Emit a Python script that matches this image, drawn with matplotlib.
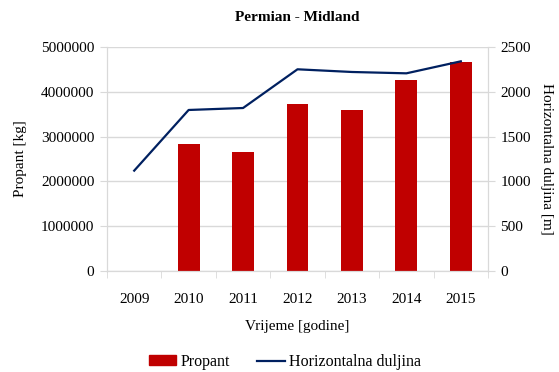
import numpy as np
import matplotlib.pyplot as plt
from matplotlib.lines import Line2D
from matplotlib.patches import Patch

plt.rcParams['font.family'] = 'Liberation Serif'

years = ['2009', '2010', '2011', '2012', '2013', '2014', '2015']
propant = [0, 2830000, 2660000, 3730000, 3590000, 4270000, 4660000]
duljina = [1120, 1797, 1819, 2251, 2221, 2206, 2340]

bar_color = '#C00000'
line_color = '#002060'
grid_color = '#D9D9D9'

fig = plt.figure(figsize=(5.59, 3.72), dpi=100)
ax = fig.add_axes([0.1914, 0.2715, 0.6816, 0.6022])
ax2 = ax.twinx()

x = np.arange(len(years))
ax.bar(x, propant, width=0.4, color=bar_color, zorder=2)
ax2.plot(x, duljina, color=line_color, linewidth=1.6, zorder=3)

ax.set_xlim(-0.5, len(years) - 0.5)
ax.set_ylim(0, 5000000)
ax2.set_ylim(0, 2500)
ax.set_yticks(np.arange(0, 5000001, 1000000))
ax.set_yticklabels([str(v) for v in range(0, 5000001, 1000000)])
ax2.set_yticks(np.arange(0, 2501, 500))

ax.set_xticks(x)
ax.set_xticklabels(years)
ax.set_xticks(np.arange(-0.5, len(years)), minor=True)
ax.tick_params(axis='x', which='major', length=0, pad=16, labelsize=11)
ax.tick_params(axis='x', which='minor', length=5, color=grid_color)
ax.tick_params(axis='y', length=5, color=grid_color, pad=4, labelsize=11)
ax2.tick_params(axis='y', length=5, color=grid_color, pad=4, labelsize=11)

ax.grid(axis='y', color=grid_color, linewidth=1, zorder=0)
ax.set_axisbelow(True)
for a in (ax, ax2):
    for s in a.spines.values():
        s.set_color(grid_color)
    a.spines['top'].set_visible(False)

ax.set_title('Permian - Midland', fontsize=11, fontweight='bold', pad=19)
ax.set_xlabel('Vrijeme [godine]', fontsize=11, labelpad=10)
ax.set_ylabel('Propant [kg]', fontsize=11, labelpad=10)
ax2.set_ylabel('Horizontalna duljina [m]', fontsize=11, rotation=270, labelpad=16)

handles = [Patch(color=bar_color), Line2D([], [], color=line_color, linewidth=1.6)]
fig.legend(handles, ['Propant', 'Horizontalna duljina'], loc='center',
           bbox_to_anchor=(0.51, 0.027), ncol=2, frameon=False, fontsize=11.5,
           handlelength=1.7, handleheight=0.55, columnspacing=1.7, handletextpad=0.3)

fig.savefig('out.png', dpi=100)
